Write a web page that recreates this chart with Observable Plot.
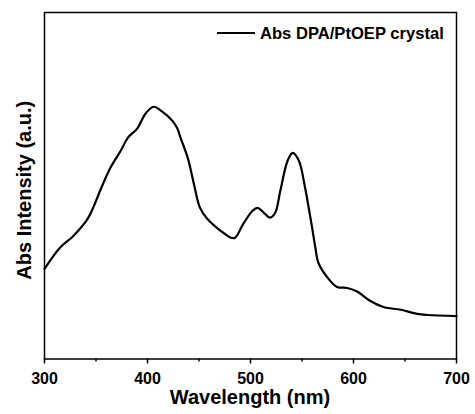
<!DOCTYPE html>
<html>
<head>
<meta charset="utf-8">
<script src="https://cdn.jsdelivr.net/npm/d3@7"></script>
<script src="https://cdn.jsdelivr.net/npm/@observablehq/plot@0.6"></script>
<style>
  html, body { margin: 0; padding: 0; background: #fff; }
  #chart { width: 475px; height: 414px; }
</style>
</head>
<body>
<div id="chart"></div>
<script>
// Absorption spectrum of the DPA/PtOEP crystal (arbitrary units)
const wavelength = [300, 315, 328, 342, 348, 356, 364, 374, 381, 390, 398, 406, 413, 424, 429, 432, 439, 445, 451, 458, 471, 481, 485, 493, 502, 507, 513, 519, 524, 529, 536, 541, 547, 553, 557, 560, 563, 566, 575, 584, 594, 604, 616, 629, 646, 662, 672, 700];
const absorbance = [0.260, 0.321, 0.355, 0.405, 0.442, 0.500, 0.552, 0.601, 0.639, 0.665, 0.708, 0.728, 0.717, 0.688, 0.665, 0.639, 0.581, 0.506, 0.436, 0.405, 0.370, 0.350, 0.350, 0.390, 0.428, 0.436, 0.422, 0.408, 0.422, 0.486, 0.572, 0.595, 0.572, 0.494, 0.428, 0.376, 0.321, 0.277, 0.234, 0.208, 0.205, 0.194, 0.168, 0.150, 0.142, 0.130, 0.127, 0.124];

const majorTicks = [300, 400, 500, 600, 700];
const minorTicks = [350, 450, 550, 650];

const seriesName = "Abs DPA/PtOEP crystal";
const xTitle = "Wavelength (nm)";
const yTitle = "Abs Intensity (a.u.)";

const spectrum = wavelength.map((w, i) => ({wavelength: w, absorbance: absorbance[i]}));

const W = 475, H = 414;
const margin = {left: 44, right: 19, top: 12, bottom: 55.5};

const chart = Plot.plot({
  width: W,
  height: H,
  marginLeft: margin.left,
  marginRight: margin.right,
  marginTop: margin.top,
  marginBottom: margin.bottom,
  style: {
    fontFamily: "'Liberation Sans', Arial, sans-serif",
    fontSize: "16px",
    fontWeight: "bold",
    color: "#000",
    background: "#fff",
    overflow: "visible"
  },
  x: {domain: [300, 700]},
  y: {domain: [0, 1], axis: null},
  marks: [
    Plot.axisX(majorTicks, {tickSize: 5, tickPadding: 9, label: null, strokeWidth: 1.5}),
    Plot.axisX(minorTicks, {tickSize: 3, tickFormat: () => "", label: null, strokeWidth: 1.5}),
    Plot.line(spectrum, {
      x: "wavelength",
      y: "absorbance",
      curve: "catmull-rom",
      stroke: "#000",
      strokeWidth: 2.2
    }),
    Plot.frame({stroke: "#000", strokeWidth: 1.5})
  ]
});

document.getElementById("chart").appendChild(chart);

// axis titles and the series key
const svg = d3.select(chart);
const cx = (margin.left + (W - margin.right)) / 2;
const cy = (margin.top + (H - margin.bottom)) / 2;

svg.append("text")
  .attr("x", cx)
  .attr("y", 404)
  .attr("text-anchor", "middle")
  .attr("font-size", 20)
  .attr("font-weight", "bold")
  .attr("fill", "#000")
  .text(xTitle);

svg.append("text")
  .attr("transform", `translate(31,${cy + 5}) rotate(-90)`)
  .attr("text-anchor", "middle")
  .attr("font-size", 20)
  .attr("font-weight", "bold")
  .attr("fill", "#000")
  .text(yTitle);

const key = svg.append("g").attr("transform", "translate(217,33)");
key.append("line")
  .attr("x1", 0).attr("x2", 38)
  .attr("y1", 0).attr("y2", 0)
  .attr("stroke", "#000")
  .attr("stroke-width", 2.2);
key.append("text")
  .attr("x", 43)
  .attr("y", 6)
  .attr("text-anchor", "start")
  .attr("font-size", 16.6)
  .attr("font-weight", "bold")
  .attr("fill", "#000")
  .text(seriesName);
</script>
</body>
</html>
